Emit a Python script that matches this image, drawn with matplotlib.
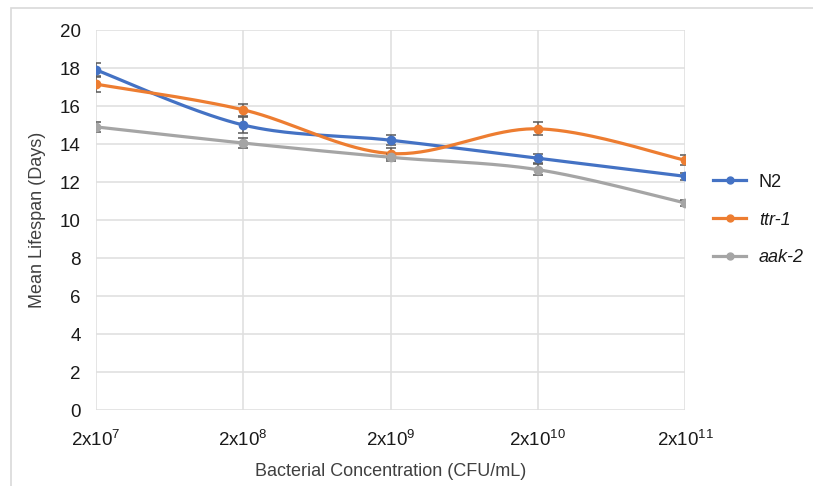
import numpy as np
import matplotlib
matplotlib.use("Agg")
import matplotlib.pyplot as plt
from matplotlib.patches import Rectangle

plt.rcParams['font.family'] = ['Liberation Sans', 'DejaVu Sans']
plt.rcParams['mathtext.fontset'] = 'custom'
plt.rcParams['mathtext.rm'] = 'Liberation Sans'
plt.rcParams['mathtext.it'] = 'Liberation Sans:italic'

# data
concentrations = ['2x10$^{7}$', '2x10$^{8}$', '2x10$^{9}$', '2x10$^{10}$', '2x10$^{11}$']
n2 = [17.9, 15.0, 14.2, 13.25, 12.3]
n2_err = [0.37, 0.4, 0.25, 0.25, 0.2]
ttr1 = [17.15, 15.8, 13.5, 14.8, 13.15]
ttr1_err = [0.42, 0.3, 0.3, 0.35, 0.25]
aak2 = [14.9, 14.05, 13.3, 12.65, 10.9]
aak2_err = [0.25, 0.25, 0.2, 0.3, 0.15]

series = [('N2', n2, n2_err, '#4472C4', 'normal'),
          ('ttr-1', ttr1, ttr1_err, '#ED7D31', 'italic'),
          ('aak-2', aak2, aak2_err, '#A5A5A5', 'italic')]


def smooth(x, y, n=40):
    # Catmull-Rom style bezier, like the smoothed lines of a spreadsheet
    x = np.asarray(x, float)
    y = np.asarray(y, float)
    px = np.r_[x[0], x, x[-1]]
    py = np.r_[y[0], y, y[-1]]
    xs, ys = [], []
    t = np.linspace(0, 1, n)
    for i in range(len(x) - 1):
        p0 = np.array([px[i + 1], py[i + 1]])
        p3 = np.array([px[i + 2], py[i + 2]])
        c1 = p0 + (p3 - np.array([px[i], py[i]])) / 6
        c2 = p3 - (np.array([px[i + 3], py[i + 3]]) - p0) / 6
        pts = ((1 - t) ** 3)[:, None] * p0 + (3 * (1 - t) ** 2 * t)[:, None] * c1 \
            + (3 * (1 - t) * t ** 2)[:, None] * c2 + (t ** 3)[:, None] * p3
        xs.extend(pts[:, 0])
        ys.extend(pts[:, 1])
    return np.array(xs), np.array(ys)


fig = plt.figure(figsize=(8.13, 4.86), dpi=100)
ax = fig.add_axes([96 / 813, 1 - 410 / 486, (685 - 96) / 813, (410 - 30) / 486])

# chart area border
fig.patches.append(Rectangle((11 / 813, -0.01), 1.1, 1 - 8 / 486 + 0.01,
                             transform=fig.transFigure, fill=False,
                             edgecolor='#D9D9D9', linewidth=1.2))

x = np.arange(len(concentrations))
for name, vals, errs, col, style in series:
    sx, sy = smooth(x, vals)
    ax.plot(sx, sy, color=col, linewidth=2.3, solid_capstyle='round', zorder=3)
    ax.errorbar(x, vals, yerr=errs, fmt='none', ecolor='#595959',
                elinewidth=1.1, capsize=3.5, capthick=1.1, zorder=4)
    ax.plot(x, vals, 'o', color=col, markersize=6, zorder=5)
    ax.plot([], [], '-o', color=col, linewidth=2.3, markersize=5, label=name)

ax.set_xlim(0, 4)
ax.set_ylim(0, 20)
ax.set_yticks(np.arange(0, 21, 2))
ax.set_xticks(x)
ax.set_xticklabels(concentrations)
ax.grid(True, color='#E0E0E0', linewidth=1.2)
ax.set_axisbelow(True)
for s in ax.spines.values():
    s.set_visible(False)
ax.tick_params(length=0, labelsize=13.5, colors='#1a1a1a')
ax.tick_params(axis='y', pad=11)
ax.tick_params(axis='x', pad=14)
ax.set_xlabel('Bacterial Concentration (CFU/mL)', fontsize=13, color='#404040', labelpad=10)
ax.set_ylabel('Mean Lifespan (Days)', fontsize=13, color='#404040', labelpad=10)

leg = ax.legend(loc='center left', bbox_to_anchor=(1.035, 0.5), frameon=False,
                fontsize=13, handlelength=1.85, labelspacing=1.15, handletextpad=0.7,
                borderaxespad=0)
for txt, (_, _, _, _, style) in zip(leg.get_texts(), series):
    txt.set_fontstyle(style)
    txt.set_color('#1a1a1a')

fig.savefig('out.png', dpi=100)
